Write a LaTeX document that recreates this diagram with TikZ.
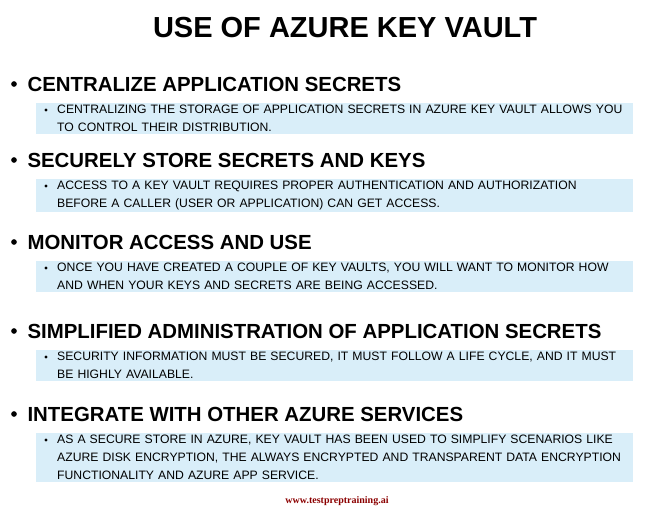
\documentclass[tikz,border=0pt]{standalone}
\usepackage{fontspec}
\setmainfont{Liberation Sans}
\newfontfamily\webfont{Liberation Serif}
\definecolor{boxblue}{HTML}{D9EEF9}
\definecolor{webred}{HTML}{8B0000}
\tikzset{heading/.style={anchor=west, font=\bfseries\fontsize{20.4}{22}\selectfont},
         bigdot/.style={circle, fill=black, inner sep=2pt},
         smalldot/.style={circle, fill=black, inner sep=1.1pt},
         detail/.style={anchor=north west, fill=boxblue, text width=597pt, inner ysep=2pt,
                        inner xsep=0pt, font=\fontsize{12.2}{18}\selectfont, align=left}}
\newcommand{\detailtext}[1]{\hspace*{21pt}\parbox[t]{576pt}{\hyphenpenalty=10000 #1}}
\begin{document}
\begin{tikzpicture}[x=1pt, y=-1pt]
\useasboundingbox (0,0) rectangle (650,514);
\node (title) at (345,28) {\bfseries\fontsize{29}{31}\selectfont USE OF AZURE KEY VAULT};

\node[bigdot] (b1) at (14,84) {};
\node[heading] (h1) at (24,84) {CENTRALIZE APPLICATION SECRETS};
\node[detail] (d1) at (36,103) {\detailtext{CENTRALIZING THE STORAGE OF APPLICATION SECRETS IN AZURE KEY VAULT ALLOWS YOU TO CONTROL THEIR DISTRIBUTION.}};
\node[smalldot] (s1) at (46,110) {};

\node[bigdot] (b2) at (14,160) {};
\node[heading] (h2) at (24,160) {SECURELY STORE SECRETS AND KEYS};
\node[detail] (d2) at (36,179) {\detailtext{ACCESS TO A KEY VAULT REQUIRES PROPER AUTHENTICATION AND AUTHORIZATION\linebreak BEFORE A CALLER (USER OR APPLICATION) CAN GET ACCESS.}};
\node[smalldot] (s2) at (46,186) {};

\node[bigdot] (b3) at (14,242) {};
\node[heading] (h3) at (24,242) {MONITOR ACCESS AND USE};
\node[detail] (d3) at (36,261) {\detailtext{ONCE YOU HAVE CREATED A COUPLE OF KEY VAULTS, YOU WILL WANT TO MONITOR HOW AND WHEN YOUR KEYS AND SECRETS ARE BEING ACCESSED.}};
\node[smalldot] (s3) at (46,268) {};

\node[bigdot] (b4) at (14,331) {};
\node[heading] (h4) at (24,331) {SIMPLIFIED ADMINISTRATION OF APPLICATION SECRETS};
\node[detail] (d4) at (36,350) {\detailtext{SECURITY INFORMATION MUST BE SECURED, IT MUST FOLLOW A LIFE CYCLE, AND IT MUST BE HIGHLY AVAILABLE.}};
\node[smalldot] (s4) at (46,357) {};

\node[bigdot] (b5) at (14,414) {};
\node[heading] (h5) at (24,414) {INTEGRATE WITH OTHER AZURE SERVICES};
\node[detail] (d5) at (36,433) {\detailtext{AS A SECURE STORE IN AZURE, KEY VAULT HAS BEEN USED TO SIMPLIFY SCENARIOS LIKE AZURE DISK ENCRYPTION, THE ALWAYS ENCRYPTED AND TRANSPARENT DATA ENCRYPTION FUNCTIONALITY AND AZURE APP SERVICE.}};
\node[smalldot] (s5) at (46,440) {};

\node[text=webred, font=\webfont\bfseries\fontsize{10}{12}\selectfont] (web) at (337,501) {www.testpreptraining.ai};
\end{tikzpicture}
\end{document}
